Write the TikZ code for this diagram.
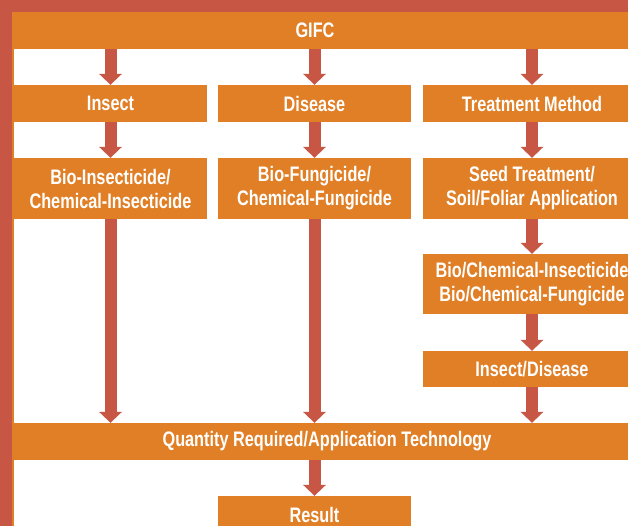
\documentclass[tikz,border=0pt]{standalone}
\usepackage{fontspec}
\setmainfont{Liberation Sans}[FakeStretch=0.775]
\usetikzlibrary{arrows.meta}
\usetikzlibrary{positioning}

\definecolor{framered}{RGB}{200,86,69}
\definecolor{boxorange}{RGB}{224,127,38}
\newcommand{\boxfont}{\fontsize{21}{24}\selectfont\bfseries}

\begin{document}
\begin{tikzpicture}[
  x=1pt, y=-1pt,
  > = {Triangle[width=23pt,length=11pt,line width=0pt]},
  box/.style = {fill=boxorange, text=white, inner sep=0pt, minimum height=37pt, align=center, font=\boxfont},
  flow/.style = {->, draw=framered, fill=framered, line width=12pt}
  ]
	\useasboundingbox (0,0) rectangle (628,526);
	\clip (0,0) rectangle (628,526);

	% frame
	\fill[framered] (0,0) rectangle (12,526);
	\fill[framered] (0,0) rectangle (628,12);
	\fill[boxorange] (11.5,12) rectangle (13.5,526);

	\node[box,minimum width=630pt] (gifc) at (327,30.5) {\hspace*{-24pt}GIFC};

	\node[box,minimum width=193pt] (insect) at (110.5,103.5) {Insect};
	\node[box,minimum width=193pt] (disease) at (314.5,103.5) {Disease};
	\node[box,minimum width=218pt] (treat) at (532,103.5) {Treatment Method};

	\node[box,minimum width=193pt,minimum height=61pt] (bioins) at (110.5,188.5) {Bio-Insecticide/\\Chemical-Insecticide};
	\node[box,minimum width=193pt,minimum height=61pt] (biofung) at (314.5,188.5) {Bio-Fungicide/\\Chemical-Fungicide};
	\node[box,minimum width=218pt,minimum height=61pt] (seed) at (532,188.5) {Seed Treatment/\\Soil/Foliar Application};

	\node[box,minimum width=218pt,minimum height=60pt] (biochem) at (532,284) {Bio/Chemical-Insecticide\\Bio/Chemical-Fungicide};
	\node[box,minimum width=218pt,minimum height=36pt] (insdis) at (532,369) {Insect/Disease};

	\node[box,minimum width=630pt] (qty) at (327,441.5) {Quantity Required/Application Technology};
	\node[box,minimum width=193pt] (result) at (314.5,514.5) {Result};

	\draw[flow] (gifc.south -| insect) -- (insect.north);
	\draw[flow] (gifc.south -| disease) -- (disease.north);
	\draw[flow] (gifc.south -| treat) -- (treat.north);

	\draw[flow] (insect) -- (bioins);
	\draw[flow] (disease) -- (biofung);
	\draw[flow] (treat) -- (seed);

	\draw[flow] (bioins.south) -- (bioins.south |- qty.north);
	\draw[flow] (biofung.south) -- (biofung.south |- qty.north);
	\draw[flow] (seed) -- (biochem);
	\draw[flow] (biochem) -- (insdis);
	\draw[flow] (insdis.south) -- (insdis.south |- qty.north);

	\draw[flow] (qty.south -| result) -- (result.north);

\end{tikzpicture}
\end{document}
